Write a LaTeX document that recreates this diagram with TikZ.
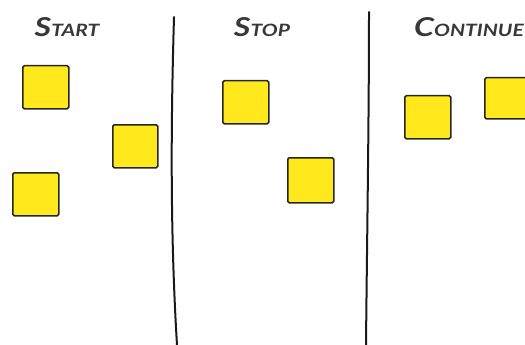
\documentclass[tikz,border=0pt]{standalone}
\usepackage{fontspec}
\usepackage{graphicx}
\setmainfont{Lato}
\newcommand{\ttl}[2]{\scalebox{1.24}[1.0]{{\fontsize{26}{26}\selectfont #1}{\fontsize{17}{17}\selectfont #2}}}
\begin{document}
\begin{tikzpicture}[x=1pt,y=-1pt,
  note/.style={draw=black!85, line width=1.5pt, fill=notey, rounded corners=1.5pt, inner sep=0pt, anchor=north west},
  divider/.style={draw=black!90, line width=2pt, line cap=round},
  title/.style={text=black!78, font=\itshape\bfseries, inner sep=0pt, anchor=base}]
\definecolor{notey}{HTML}{FFE81C}
\useasboundingbox (0,0) rectangle (525,345);
\clip (0,0) rectangle (525,345);
% titles
\node[title] (tstart) at (67,37) {\ttl{S}{TART}};
\node[title] (tstop) at (262,37) {\ttl{S}{TOP}};
\node[title] (tcont) at (469,37) {\ttl{C}{ONTINUE}};
% dividers
\draw[divider] (174,17) .. controls (171,120) and (170,230) .. (177,345);
\draw[divider] (369,12) .. controls (369,120) and (367,240) .. (366,345);
% notes
\node[note, minimum width=46pt, minimum height=43pt] (n1) at (22,65) {};
\node[note, minimum width=45pt, minimum height=43pt] (n2) at (112,124) {};
\node[note, minimum width=46pt, minimum height=43pt] (n3) at (12,172) {};
\node[note, minimum width=46pt, minimum height=43pt] (n4) at (222,80) {};
\node[note, minimum width=46pt, minimum height=45pt] (n5) at (287,157) {};
\node[note, minimum width=46pt, minimum height=43pt] (n6) at (404,95) {};
\node[note, minimum width=50pt, minimum height=41pt] (n7) at (484,77) {};
\end{tikzpicture}
\end{document}
